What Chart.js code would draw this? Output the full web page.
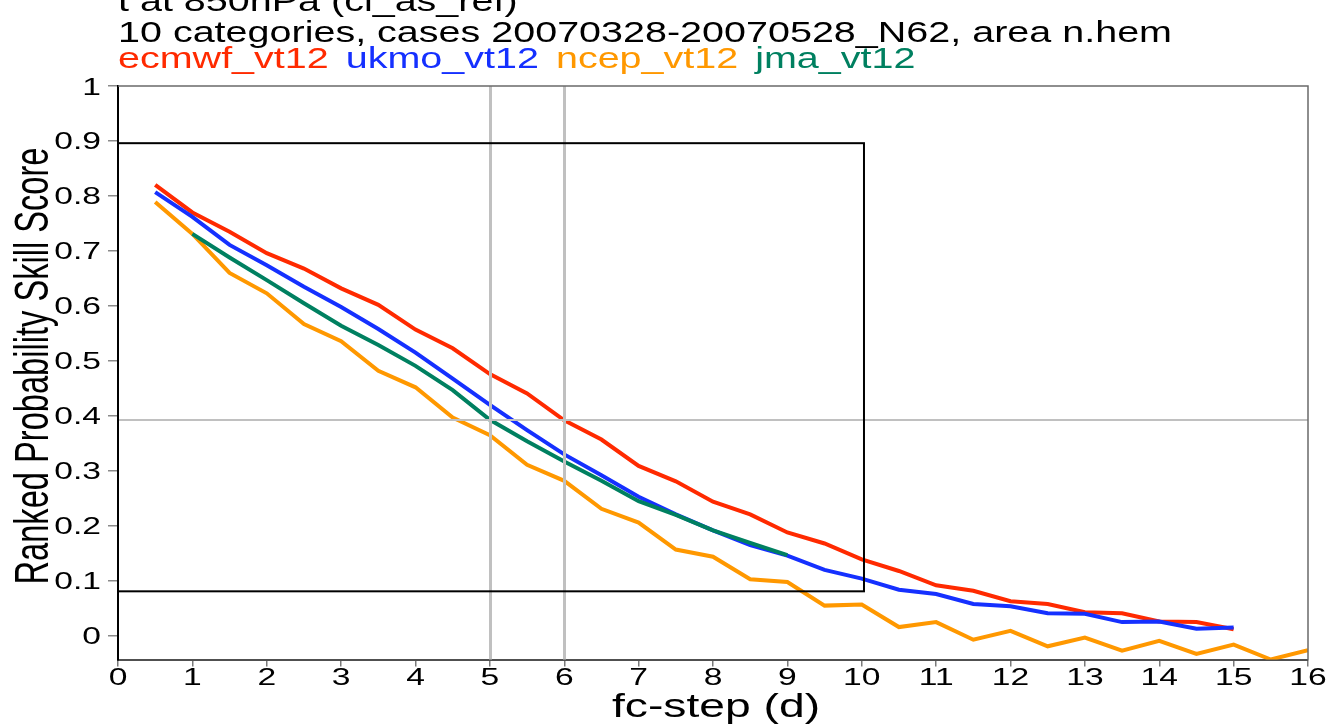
<!DOCTYPE html>
<html>
<head>
<meta charset="utf-8">
<script src="https://cdn.jsdelivr.net/npm/chart.js@4.4.1/dist/chart.umd.min.js"></script>
<style>
  html, body { margin: 0; padding: 0; background: #ffffff; overflow: hidden; }
  canvas { display: block; }
</style>
</head>
<body>
<canvas id="rpss" width="1330" height="725"></canvas>
<script>
// Forecast lead times (days)
const leadDays = [0.5, 1, 1.5, 2, 2.5, 3, 3.5, 4, 4.5, 5, 5.5, 6, 6.5, 7, 7.5, 8,
                  8.5, 9, 9.5, 10, 10.5, 11, 11.5, 12, 12.5, 13, 13.5, 14, 14.5, 15, 15.5, 16];
const jmaDays = [1, 1.5, 2, 2.5, 3, 3.5, 4, 4.5, 5, 5.5, 6, 6.5, 7, 7.5, 8, 8.5, 9];

// Ranked Probability Skill Score per centre
const ecmwfRpss = [0.820, 0.770, 0.735, 0.696, 0.668, 0.632, 0.602, 0.557, 0.523, 0.476,
                   0.441, 0.392, 0.357, 0.309, 0.281, 0.244, 0.221, 0.188, 0.168, 0.139,
                   0.118, 0.092, 0.082, 0.063, 0.058, 0.043, 0.041, 0.026, 0.025, 0.012];
const ukmoRpss  = [0.807, 0.762, 0.711, 0.674, 0.635, 0.598, 0.558, 0.515, 0.468, 0.420,
                   0.374, 0.330, 0.292, 0.253, 0.221, 0.192, 0.165, 0.146, 0.120, 0.104,
                   0.084, 0.076, 0.058, 0.054, 0.041, 0.040, 0.025, 0.026, 0.013, 0.015];
const ncepRpss  = [0.789, 0.731, 0.660, 0.623, 0.567, 0.536, 0.482, 0.452, 0.397, 0.365,
                   0.311, 0.282, 0.231, 0.206, 0.157, 0.144, 0.103, 0.098, 0.055, 0.057,
                   0.016, 0.025, -0.007, 0.009, -0.019, -0.003, -0.027, -0.009, -0.033, -0.016,
                   -0.043, -0.026];
const jmaRpss   = [0.731, 0.688, 0.647, 0.605, 0.564, 0.529, 0.491, 0.447, 0.393, 0.354,
                   0.317, 0.282, 0.245, 0.220, 0.192, 0.169, 0.147];

const seriesNames  = ['ecmwf_vt12', 'ukmo_vt12', 'ncep_vt12', 'jma_vt12'];
const seriesColors = ['#ff2a00', '#1530ff', '#ff9800', '#008060'];

const titleLines = ['t at 850hPa (cl_as_ref)',
                    '10 categories, cases 20070328-20070528_N62, area n.hem'];
const xTitle = 'fc-step (d)';
const yTitle = 'Ranked Probability Skill Score';

// Axis ticks
const xTickValues = [0, 1, 2, 3, 4, 5, 6, 7, 8, 9, 10, 11, 12, 13, 14, 15, 16];
const yTickValues = [0, 0.1, 0.2, 0.3, 0.4, 0.5, 0.6, 0.7, 0.8, 0.9, 1];
const yTickLabels = ['0', '0.1', '0.2', '0.3', '0.4', '0.5', '0.6', '0.7', '0.8', '0.9', '1'];

// Reference markers: vertical day lines, horizontal score line, and the highlight box
const markerDays   = [5, 6];
const markerScores = [0.392];
const boxDays      = [0, 10.03];
const boxScores    = [0.081, 0.896];

const FONT = '"Liberation Sans", Arial, Helvetica, sans-serif';
const STRETCH = 1.36;

function toPoints(days, values) {
  return values.map((v, i) => ({ x: days[i], y: v }));
}

function drawText(ctx, str, x, y, size, color, sx, align) {
  ctx.save();
  ctx.font = size + 'px ' + FONT;
  ctx.fillStyle = color;
  ctx.textBaseline = 'alphabetic';
  ctx.textAlign = align || 'left';
  ctx.translate(x, y);
  ctx.scale(sx, 1);
  ctx.fillText(str, 0, 0);
  ctx.restore();
}

const markerPlugin = {
  id: 'markers',
  afterDatasetsDraw(chart) {
    const { ctx, chartArea: a, scales: { x, y } } = chart;
    ctx.save();
    ctx.lineCap = 'butt';
    ctx.strokeStyle = '#c0c0c0';
    ctx.lineWidth = 3;
    markerDays.forEach(d => {
      const px = Math.round(x.getPixelForValue(d)) + 0.5;
      ctx.beginPath(); ctx.moveTo(px, a.top); ctx.lineTo(px, a.bottom); ctx.stroke();
    });
    ctx.lineWidth = 2;
    markerScores.forEach(v => {
      const py = Math.round(y.getPixelForValue(v));
      ctx.beginPath(); ctx.moveTo(a.left, py); ctx.lineTo(a.right, py); ctx.stroke();
    });
    // highlight box
    const bx0 = x.getPixelForValue(boxDays[0]), bx1 = x.getPixelForValue(boxDays[1]);
    const by0 = y.getPixelForValue(boxScores[0]), by1 = y.getPixelForValue(boxScores[1]);
    ctx.strokeStyle = '#000000';
    ctx.lineWidth = 2;
    ctx.strokeRect(bx0, by1, bx1 - bx0, by0 - by1);
    // frame: top and right edges
    ctx.strokeStyle = '#6a6a6a';
    ctx.lineWidth = 1.5;
    ctx.beginPath();
    ctx.moveTo(a.left, a.top); ctx.lineTo(a.right, a.top); ctx.lineTo(a.right, a.bottom);
    ctx.stroke();
    ctx.restore();
  },
  afterDraw(chart) {
    const { ctx, scales: { x, y } } = chart;
    // title lines
    ctx.save();
    ctx.font = '30px ' + FONT;
    const sxTitle = 1054 / ctx.measureText(titleLines[1]).width;
    ctx.restore();
    drawText(ctx, titleLines[0], 118, 11, 30, '#000', sxTitle);
    drawText(ctx, titleLines[1], 118, 42, 30, '#000', sxTitle);
    // series names
    let lx = 118;
    seriesNames.forEach((name, i) => {
      ctx.save();
      ctx.font = '30px ' + FONT;
      const w = ctx.measureText(name).width * sxTitle;
      ctx.restore();
      drawText(ctx, name, lx, 68, 30, seriesColors[i], sxTitle);
      lx += w + 17;
    });
    // y tick labels
    yTickValues.forEach((v, i) => {
      drawText(ctx, yTickLabels[i], 101, y.getPixelForValue(v) + 8.5, 24, '#000', 1.4, 'right');
    });
    // x tick labels
    xTickValues.forEach(v => {
      drawText(ctx, String(v), x.getPixelForValue(v), 685, 24, '#000', 1.4, 'center');
    });
    // x axis title
    drawText(ctx, xTitle, 716, 717, 34, '#000', STRETCH, 'center');
    // y axis title (rotated)
    ctx.save();
    ctx.font = '33px ' + FONT;
    const k = 437 / ctx.measureText(yTitle).width;
    ctx.fillStyle = '#000';
    ctx.textAlign = 'center';
    ctx.textBaseline = 'alphabetic';
    ctx.translate(48, 366);
    ctx.scale(1.48, 1);
    ctx.rotate(-Math.PI / 2);
    ctx.scale(k, 1);
    ctx.fillText(yTitle, 0, 0);
    ctx.restore();
  }
};

const lineStyle = { borderWidth: 4, pointRadius: 0, tension: 0, fill: false,
                    borderJoinStyle: 'miter', borderCapStyle: 'butt' };

new Chart(document.getElementById('rpss'), {
  type: 'line',
  data: {
    datasets: [
      Object.assign({ label: seriesNames[0], data: toPoints(leadDays, ecmwfRpss),
        borderColor: seriesColors[0], order: 4 }, lineStyle),
      Object.assign({ label: seriesNames[1], data: toPoints(leadDays, ukmoRpss),
        borderColor: seriesColors[1], order: 3 }, lineStyle),
      Object.assign({ label: seriesNames[2], data: toPoints(leadDays, ncepRpss),
        borderColor: seriesColors[2], order: 2 }, lineStyle),
      Object.assign({ label: seriesNames[3], data: toPoints(jmaDays, jmaRpss),
        borderColor: seriesColors[3], order: 1 }, lineStyle)
    ]
  },
  options: {
    responsive: false,
    animation: false,
    devicePixelRatio: 1,
    layout: { padding: { top: 86, right: 22, left: 0, bottom: 0 } },
    plugins: { legend: { display: false }, title: { display: false }, tooltip: { enabled: false } },
    scales: {
      x: {
        type: 'linear', min: 0, max: 16,
        afterBuildTicks: s => { s.ticks = xTickValues.map(v => ({ value: v })); },
        afterFit: s => { s.height = 65.5; },
        ticks: { display: false },
        grid: { drawOnChartArea: false, drawTicks: true, tickLength: 7, color: '#7a7a7a', lineWidth: 1.5 },
        border: { display: true, color: '#505050', width: 2 }
      },
      y: {
        type: 'linear', min: -0.043, max: 1,
        afterBuildTicks: s => { s.ticks = yTickValues.map(v => ({ value: v })); },
        afterFit: s => { s.width = 118; },
        ticks: { display: false },
        grid: { drawOnChartArea: false, drawTicks: true, tickLength: 10, color: '#8a8a8a', lineWidth: 1.5 },
        border: { display: true, color: '#000000', width: 2 }
      }
    }
  },
  plugins: [markerPlugin]
});
</script>
</body>
</html>
